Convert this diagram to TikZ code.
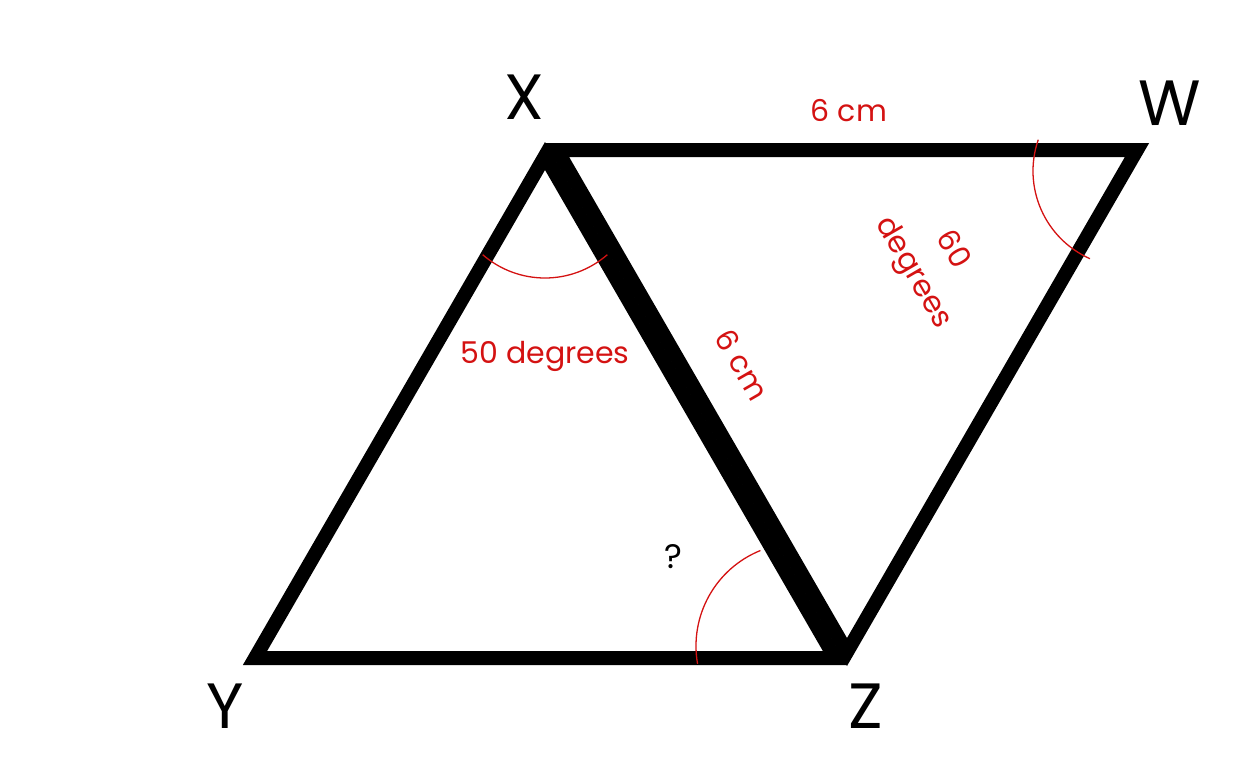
\documentclass[tikz,border=0pt]{standalone}
\usepackage{fontspec}
\setmainfont{Poppins}
\usetikzlibrary{positioning}
\definecolor{markred}{RGB}{212,18,18}
\tikzstyle{side} = [draw, line width=14pt, line join=miter]
\tikzstyle{anglemark} = [draw, markred, line width=1.3pt]
\tikzstyle{vertex} = [font=\fontsize{64}{70}\selectfont, inner sep=0pt]
\tikzstyle{measure} = [text=markred, font=\fontsize{30}{45}\selectfont, inner sep=0pt, align=center]

\begin{document}
\begin{tikzpicture}[x=1pt, y=-1pt]
      \useasboundingbox (0,0) rectangle (1238,757);
      % place corners
      \coordinate (x) at (545,156);
      \coordinate (y) at (255,658);
      \coordinate (z) at (835,658);
      \coordinate (x2) at (557,150);
      \coordinate (w) at (1137,150);
      \coordinate (z2) at (847,652);
      % centres of the angle marks
      \coordinate (xa) at (545,183);
      \coordinate (wa) at (1129,171);
      \coordinate (za) at (799,646);

      % draw triangles
      \path [side] (x) -- (y) -- (z) -- cycle;
      \path [side] (x2) -- (w) -- (z2) -- cycle;

      % angle marks
      \path [anglemark] (xa) ++(49:95) arc (49:131:95);
      \path [anglemark] (wa) ++(114:96) arc (114:199:96);
      \path [anglemark] (za) ++(170:103) arc (170:248:103);

      % labels
      \node [vertex] (xl) at (524,97) {X};
      \node [vertex] (yl) at (225,706) {Y};
      \node [vertex] (zl) at (866,706) {Z};
      \node [vertex] (wl) at (1170,103) {W};
      \node [measure] (top) at (849,111) {6 cm};
      \node [measure, rotate=-60] (diag) at (742,365) {6 cm};
      \node [measure] (angx) at (545,356) {50 degrees};
      \node [measure, rotate=-60] (angw) at (932,262) {60\\degrees};
      \node [font=\fontsize{34}{40}\selectfont, inner sep=0pt] (ask) at (673,557) {?};
\end{tikzpicture}
\end{document}
